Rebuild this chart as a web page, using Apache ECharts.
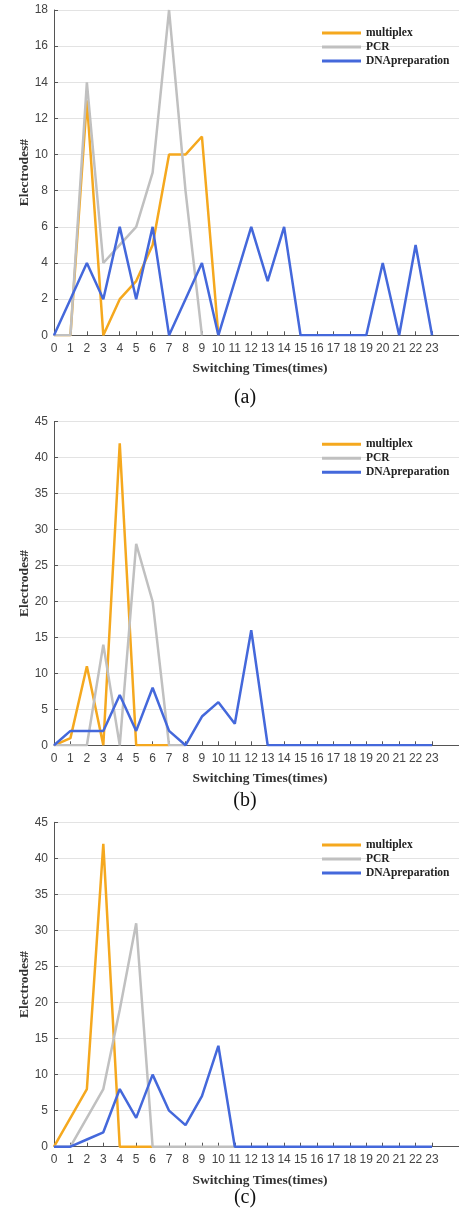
<!DOCTYPE html>
<html>
<head>
<meta charset="utf-8">
<script src="https://cdn.jsdelivr.net/npm/echarts@6/dist/echarts.min.js"></script>
<style>
html,body{margin:0;padding:0;background:#fff;}
#chart{width:459px;height:1210px;}
</style>
</head>
<body>
<div id="chart"></div>
<script>
// ---- data ----
var xTicks = [0,1,2,3,4,5,6,7,8,9,10,11,12,13,14,15,16,17,18,19,20,21,22,23];
var seriesNames = ['multiplex', 'PCR', 'DNApreparation'];

var a_multiplex = [0,0,13,0,2,3,5,10,10,11,0];
var a_pcr       = [0,0,14,4,5,6,9,18,8,0];
var a_dna       = [0,2,4,2,6,2,6,0,2,4,0,3,6,3,6,0,0,0,0,0,4,0,5,0];

var b_multiplex = [0,1,11,0,42,0,0,0];
var b_pcr       = [0,0,0,14,0,28,20,0,0];
var b_dna       = [0,2,2,2,7,2,8,2,0,4,6,3,16,0,0,0,0,0,0,0,0,0,0,0];

var c_multiplex = [0,4,8,42,0,0,0];
var c_pcr       = [0,0,4,8,19,31,0,0,0,0,0,0];
var c_dna       = [0,0,1,2,8,4,10,5,3,7,14,0,0,0,0,0,0,0,0,0,0,0,0,0];

var panels = [
  {label:'(a)', ymax:18, yint:2, data:[a_multiplex,a_pcr,a_dna]},
  {label:'(b)', ymax:45, yint:5, data:[b_multiplex,b_pcr,b_dna]},
  {label:'(c)', ymax:45, yint:5, data:[c_multiplex,c_pcr,c_dna]}
];

// ---- layout / style ----
var colors = ['#F5A81E', '#C0C0C0', '#4468DB'];
var gridTops = [10, 421.7, 822.3];
var gridHeights = [325.3, 323.6, 324.4];
var legendTops = [21, 432.3, 833];
var captionY = [398, 800.7, 1198];
var sansFont = 'Liberation Sans';
var serifFont = 'Liberation Serif';

function toPairs(arr){ return arr.map(function(v,i){ return [i, v]; }); }

var grids = [], xAxes = [], yAxes = [], series = [], legends = [], graphics = [];
panels.forEach(function(p, k){
  grids.push({left:54, top:gridTops[k], width:405, height:gridHeights[k], containLabel:false});
  xAxes.push({
    type:'value', gridIndex:k, min:0, max:24.64,
    name:'Switching Times(times)', nameLocation:'middle', nameGap:26.5,
    nameTextStyle:{fontFamily:serifFont, fontWeight:'bold', fontSize:13.5, color:'#333', padding:[0,0,0,7]},
    axisLine:{show:true, lineStyle:{color:'#555', width:1}},
    axisTick:{show:true, inside:true, length:4, customValues:xTicks, lineStyle:{color:'#555'}},
    axisLabel:{show:true, customValues:xTicks, margin:7, fontFamily:sansFont, fontSize:12, color:'#444'},
    splitLine:{show:false}
  });
  yAxes.push({
    type:'value', gridIndex:k, min:0, max:p.ymax, interval:p.yint,
    name:'Electrodes#', nameLocation:'middle', nameGap:22, nameRotate:90, nameMoveOverlap:false,
    nameTextStyle:{fontFamily:serifFont, fontWeight:'bold', fontSize:13.5, color:'#333'},
    axisLine:{show:true, lineStyle:{color:'#555', width:1}},
    axisTick:{show:true, inside:true, length:4, lineStyle:{color:'#555'}},
    axisLabel:{show:true, margin:6, fontFamily:sansFont, fontSize:12, color:'#444'},
    splitLine:{show:true, lineStyle:{color:'#e3e3e3', width:1}}
  });
  p.data.forEach(function(arr, j){
    series.push({
      type:'line', name:seriesNames[j], xAxisIndex:k, yAxisIndex:k,
      data:toPairs(arr), showSymbol:false, symbol:'none',
      lineStyle:{color:colors[j], width:2.5}, itemStyle:{color:colors[j]},
      animation:false, z:2+j
    });
  });
  legends.push({
    orient:'vertical', left:317, top:legendTops[k], itemGap:0,
    itemWidth:39, itemHeight:3, icon:'rect',
    data:seriesNames,
    textStyle:{fontFamily:serifFont, fontWeight:'bold', fontSize:11.5, color:'#222', lineHeight:14}
  });
  graphics.push({
    type:'text', x:245, y:captionY[k],
    style:{text:p.label, font:'20px "Liberation Serif"', fill:'#111', textAlign:'center', textVerticalAlign:'middle'}
  });
});

var chart = echarts.init(document.getElementById('chart'), null, {renderer:'canvas'});
chart.setOption({
  animation:false,
  color:colors,
  grid:grids, xAxis:xAxes, yAxis:yAxes, series:series, legend:legends,
  graphic:graphics
});
</script>
</body>
</html>
